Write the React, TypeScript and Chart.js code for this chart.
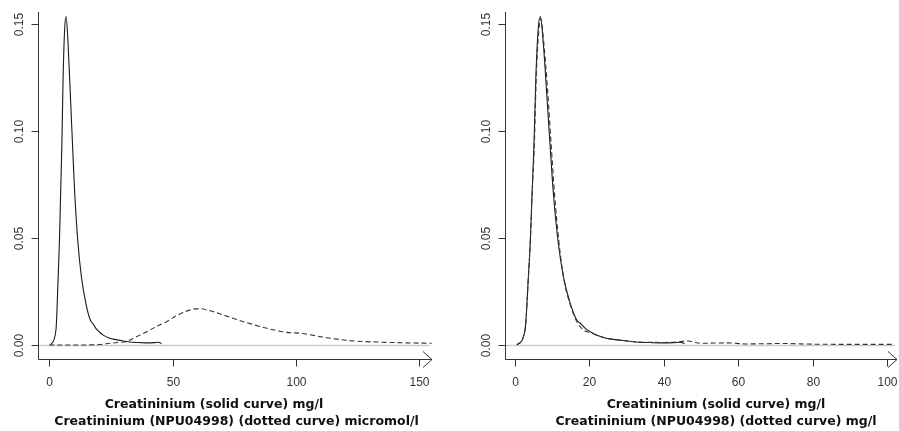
import React, { useEffect, useRef } from "react";
import { Chart, registerables } from "chart.js";

Chart.register(...registerables);

// Solid curve: Creatininium, mg/l (same series on both panels)
const solidX = [0.5, 2.7, 3.6, 4.1, 4.6, 5.1, 5.6, 6.2, 6.8, 7.6, 8.5, 9.4, 10.3, 11.6, 13.0, 14.8, 16.6, 17.8, 18.8, 20.2, 22.0, 24.2, 27.0, 30.0, 33.6, 37.0, 40.0, 42.5, 44.4, 45.5];
const solidY = [0.0, 0.007, 0.032, 0.048, 0.071, 0.094, 0.125, 0.147, 0.1535, 0.141, 0.118, 0.094, 0.071, 0.048, 0.032, 0.0196, 0.0117, 0.0098, 0.0079, 0.0062, 0.0045, 0.0033, 0.0025, 0.0019, 0.0013, 0.0011, 0.001, 0.0011, 0.0013, 0.0006];

// Dotted curve: Creatininium (NPU04998), micromol/l (left panel)
const dottedUmolX = [0, 10, 20.6, 24.6, 28.0, 31.4, 32.7, 36.5, 40.8, 44.0, 47.6, 50.5, 53.0, 57.1, 60.5, 65.2, 70.6, 78.7, 88.2, 96.3, 101.7, 112.5, 123.3, 135.3, 145.0, 155.0];
const dottedUmolY = [0.0, 0.0, 0.0002, 0.0008, 0.0012, 0.0016, 0.0023, 0.0045, 0.007, 0.009, 0.0109, 0.013, 0.0145, 0.0164, 0.017, 0.016, 0.014, 0.0109, 0.0078, 0.0059, 0.0055, 0.0034, 0.0019, 0.0013, 0.001, 0.0008];

// Dotted curve: Creatininium (NPU04998), converted to mg/l (right panel)
const dottedMgX = [0.5, 2.7, 3.6, 4.1, 4.6, 5.2, 5.7, 6.4, 6.9, 7.8, 8.8, 9.7, 10.6, 11.8, 13.1, 14.9, 16.6, 18.4, 20.2, 24.0, 28.0, 34.0, 40.0, 44.0, 46.5, 50.0, 57.0, 62.0, 72.0, 80.0, 90.0, 102.0];
const dottedMgY = [0.0, 0.007, 0.032, 0.048, 0.071, 0.094, 0.125, 0.147, 0.1525, 0.14, 0.118, 0.094, 0.071, 0.048, 0.031, 0.0185, 0.011, 0.007, 0.0058, 0.0034, 0.0023, 0.0013, 0.0012, 0.0015, 0.0019, 0.0008, 0.001, 0.0005, 0.0007, 0.0004, 0.0003, 0.0003];

const yTicks = [0, 0.05, 0.1, 0.15];
const leftXTicks = [0, 50, 100, 150];
const rightXTicks = [0, 20, 40, 60, 80, 100];

const leftTitles = ["Creatininium (solid curve) mg/l", "Creatininium (NPU04998) (dotted curve) micromol/l"];
const rightTitles = ["Creatininium (solid curve) mg/l", "Creatininium (NPU04998) (dotted curve) mg/l"];

const toPoints = (xs: number[], ys: number[]) => xs.map((x, i) => ({ x, y: ys[i] }));

const TICK_FONT = "12px 'Liberation Sans', Arial, sans-serif";
const TITLE_FONT = "bold 12.5px 'DejaVu Sans', Verdana, sans-serif";
const AXIS_COLOR = "#333";

function makeAxesPlugin(cfg: { xTicks: number[]; titles: string[]; titleOffsets: number[] }) {
  return {
    id: "rAxes",
    beforeDatasetsDraw(chart: any) {
      const { ctx, chartArea, scales } = chart;
      const y0 = Math.round(scales.y.getPixelForValue(0)) + 0.5;
      ctx.save();
      ctx.strokeStyle = "#cccccc";
      ctx.lineWidth = 1.5;
      ctx.beginPath();
      ctx.moveTo(chartArea.left, y0);
      ctx.lineTo(chartArea.right - 2, y0);
      ctx.stroke();
      ctx.restore();
    },
    afterDraw(chart: any) {
      const { ctx, chartArea, scales } = chart;
      const left = Math.round(chartArea.left) + 0.5;
      const bottom = Math.round(chartArea.bottom) - 0.5;
      const right = chartArea.right;
      ctx.save();
      ctx.strokeStyle = AXIS_COLOR;
      ctx.lineWidth = 1;
      // L-shaped axes
      ctx.beginPath();
      ctx.moveTo(left, chartArea.top);
      ctx.lineTo(left, bottom);
      ctx.lineTo(right, bottom);
      ctx.stroke();
      // arrow head
      ctx.beginPath();
      ctx.moveTo(right - 9, bottom - 8);
      ctx.lineTo(right, bottom);
      ctx.lineTo(right - 9, bottom + 8);
      ctx.stroke();
      // y ticks and rotated labels
      ctx.fillStyle = AXIS_COLOR;
      ctx.font = TICK_FONT;
      ctx.textAlign = "center";
      ctx.textBaseline = "middle";
      yTicks.forEach((v) => {
        const py = Math.round(scales.y.getPixelForValue(v)) + 0.5;
        ctx.beginPath();
        ctx.moveTo(left - 7, py);
        ctx.lineTo(left, py);
        ctx.stroke();
        ctx.save();
        ctx.translate(left - 19, py);
        ctx.rotate(-Math.PI / 2);
        ctx.fillText(v.toFixed(2), 0, 0);
        ctx.restore();
      });
      // x ticks and labels
      cfg.xTicks.forEach((v) => {
        const px = Math.round(scales.x.getPixelForValue(v)) + 0.5;
        ctx.beginPath();
        ctx.moveTo(px, bottom);
        ctx.lineTo(px, bottom + 7);
        ctx.stroke();
        ctx.fillText(String(v), px, bottom + 23);
      });
      // axis titles
      ctx.fillStyle = "#111";
      ctx.font = TITLE_FONT;
      const cx = (chartArea.left + chartArea.right) / 2;
      cfg.titles.forEach((t, i) => {
        ctx.fillText(t, cx + cfg.titleOffsets[i], bottom + 45 + i * 17);
      });
      ctx.restore();
    },
  };
}

type PanelProps = {
  width: number;
  height: number;
  padding: { left: number; right: number; top: number; bottom: number };
  xMin: number;
  xMax: number;
  dotted: { x: number; y: number }[];
  xTicks: number[];
  titles: string[];
  titleOffsets: number[];
};

function Panel(props: PanelProps) {
  const ref = useRef<HTMLCanvasElement | null>(null);
  useEffect(() => {
    if (!ref.current) return;
    const chart = new Chart(ref.current, {
      type: "line",
      data: {
        datasets: [
          {
            data: props.dotted,
            borderColor: "#333",
            borderWidth: 1.1,
            borderDash: [5, 3],
            pointRadius: 0,
            cubicInterpolationMode: "monotone",
            fill: false,
          },
          {
            data: toPoints(solidX, solidY),
            borderColor: "#1a1a1a",
            borderWidth: 1.1,
            pointRadius: 0,
            cubicInterpolationMode: "monotone",
            fill: false,
          },
        ],
      },
      options: {
        animation: false,
        responsive: false,
        parsing: false as any,
        layout: { padding: props.padding },
        scales: {
          x: { type: "linear", min: props.xMin, max: props.xMax, display: false },
          y: { type: "linear", min: -0.00701, max: 0.15561, display: false },
        },
        plugins: { legend: { display: false }, tooltip: { enabled: false } },
      },
      plugins: [makeAxesPlugin({ xTicks: props.xTicks, titles: props.titles, titleOffsets: props.titleOffsets })],
    } as any);
    return () => chart.destroy();
  }, []);
  return (
    <canvas
      ref={ref}
      width={props.width}
      height={props.height}
      style={{ width: props.width, height: props.height, display: "block" }}
    />
  );
}

export default function App() {
  return (
    <div style={{ position: "absolute", left: 0, top: 0, width: 899, height: 431, background: "#fff", display: "flex" }}>
      <Panel
        width={450}
        height={431}
        padding={{ left: 38, right: 18, top: 12, bottom: 71 }}
        xMin={-4.58}
        xMax={155.15}
        dotted={toPoints(dottedUmolX, dottedUmolY)}
        xTicks={leftXTicks}
        titles={leftTitles}
        titleOffsets={[-21, 1.5]}
      />
      <Panel
        width={449}
        height={431}
        padding={{ left: 55, right: 2, top: 12, bottom: 71 }}
        xMin={-2.686}
        xMax={102.6}
        dotted={toPoints(dottedMgX, dottedMgY)}
        xTicks={rightXTicks}
        titles={rightTitles}
        titleOffsets={[15, 15]}
      />
    </div>
  );
}
